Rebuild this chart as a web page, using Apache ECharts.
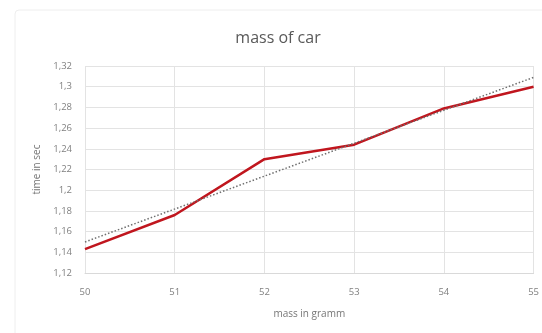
<!DOCTYPE html>
<html><head><meta charset="utf-8">
<script src="https://cdn.jsdelivr.net/npm/echarts@6/dist/echarts.min.js"></script>
<style>html,body{margin:0;padding:0;background:#fff}#c{width:542px;height:333px}</style>
</head><body><div id="c"></div>
<script>
const masses = [50, 51, 52, 53, 54, 55];
const times = [1.143, 1.176, 1.230, 1.244, 1.279, 1.300];
const trendX = [50, 55];
const trendY = [1.150, 1.309];
const xTicks = ['50','51','52','53','54','55'];
const yTicks = ['1,12','1,14','1,16','1,18','1,2','1,22','1,24','1,26','1,28','1,3','1,32'];

const chart = echarts.init(document.getElementById('c'));
const font = 'Open Sans, Liberation Sans, sans-serif';
chart.setOption({
  animation: false,
  backgroundColor: '#fff',
  graphic: [{type:'rect', shape:{x:15, y:10, width:540, height:340, r:4}, style:{fill:'none', stroke:'#eeeeee', lineWidth:1}, silent:true}],
  title: {text:'mass of car', left:273, top:25, textAlign:'center', textStyle:{fontFamily:font, fontSize:16, fontWeight:'normal', color:'#595959'}},
  grid: {left:85, right:5, top:66, bottom:60, containLabel:false},
  xAxis: {type:'value', min:50, max:55, interval:1,
    name:'mass in gramm', nameLocation:'middle', nameGap:36,
    nameTextStyle:{fontFamily:font, fontSize:10, color:'#767676'},
    axisLine:{show:true, lineStyle:{color:'#d9d9d9'}}, axisTick:{show:false},
    axisLabel:{fontFamily:font, fontSize:9.5, color:'#808080', margin:14, formatter:(v)=>xTicks[masses.indexOf(v)] ?? ''},
    splitLine:{show:true, lineStyle:{color:'#e3e3e3'}}},
  yAxis: {type:'value', min:1.12, max:1.32, interval:0.02,
    name:'time in sec', nameLocation:'middle', nameGap:43, nameRotate:90,
    nameTextStyle:{fontFamily:font, fontSize:10, color:'#767676'},
    axisLine:{show:false}, axisTick:{show:false},
    axisLabel:{fontFamily:font, fontSize:9.5, color:'#808080', margin:13, formatter:(v)=>yTicks[Math.round((v-1.12)/0.02)] ?? ''},
    splitLine:{show:true, lineStyle:{color:'#e3e3e3'}}},
  series: [
    {type:'line', data: trendX.map((x,i)=>[x, trendY[i]]), symbol:'none', lineStyle:{color:'#707070', width:1.5, type:[1.5,2]}, z:3},
    {type:'line', data: masses.map((x,i)=>[x, times[i]]), symbol:'none', lineStyle:{color:'#c0161e', width:2.5}, z:2}
  ]
});
</script></body></html>
